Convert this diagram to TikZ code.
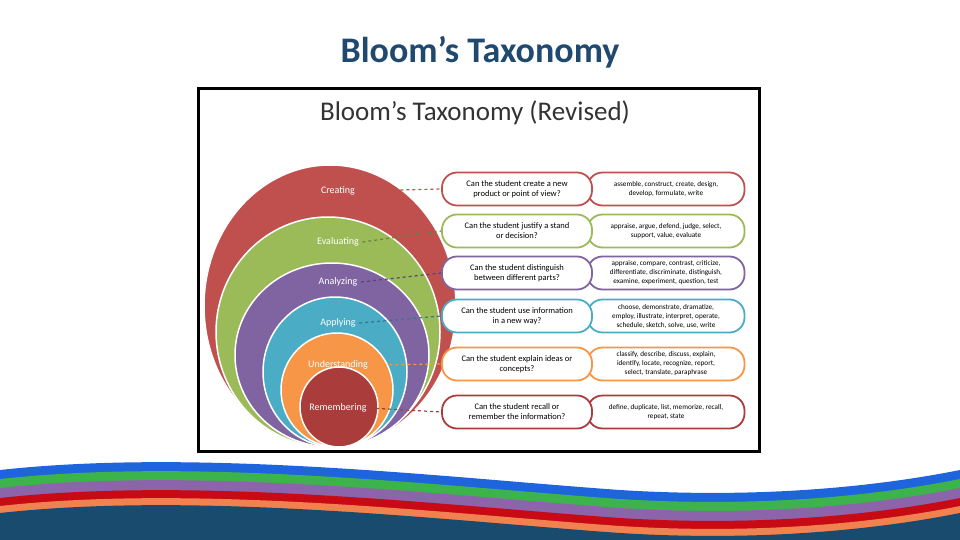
\documentclass[tikz,border=0pt]{standalone}
\usepackage{fontspec}
\setmainfont{Carlito}
\begin{document}
\begin{tikzpicture}[x=1pt,y=-1pt,
  ring/.style={draw=white,line width=1.5pt},
  lab/.style={text=white,font=\fontsize{10}{11}\selectfont},
  qbox/.style={draw=#1,fill=white,line width=1.8pt,rounded corners=15pt,minimum width=150pt,minimum height=33pt,align=center,font=\fontsize{8.5}{10}\selectfont,inner sep=1pt},
  vbox/.style={draw=#1,fill=white,line width=1.8pt,rounded corners=15pt,minimum width=157pt,minimum height=33pt,align=center,font=\fontsize{7.2}{9}\selectfont,inner sep=1pt},
  conn/.style={draw=#1,dashed,line width=1.2pt}]
\definecolor{cR}{RGB}{192,80,77}
\definecolor{cG}{RGB}{155,187,89}
\definecolor{cP}{RGB}{128,100,162}
\definecolor{cB}{RGB}{75,172,198}
\definecolor{cO}{RGB}{247,150,70}
\definecolor{cRd}{RGB}{170,60,60}
\definecolor{titleblue}{RGB}{31,73,110}
\definecolor{wBlue}{RGB}{30,100,220}
\definecolor{wGreen}{RGB}{60,180,75}
\definecolor{wPurple}{RGB}{140,100,170}
\definecolor{wRed}{RGB}{200,10,20}
\definecolor{wOrange}{RGB}{240,130,80}
\definecolor{wNavy}{RGB}{25,75,110}
\useasboundingbox (0,0) rectangle (960,540);
\node (title) at (480,52) {\fontsize{36}{40}\selectfont\bfseries\color{titleblue}Bloom’s Taxonomy};
\draw[line width=3pt] (198,89) rectangle (759,451);
\node (sub) at (475,113) {\fontsize{27}{30}\selectfont\color{black!80}Bloom’s Taxonomy (Revised)};
% rings
\fill[cR,ring] (330,306) ellipse [x radius=126, y radius=141];
\fill[cG,ring] (328,332) ellipse [x radius=112, y radius=115];
\fill[cP,ring] (332,355) ellipse [x radius=97, y radius=92];
\fill[cB,ring] (335,372) ellipse [x radius=72, y radius=75];
\fill[cO,ring] (337,390) ellipse [x radius=56, y radius=57];
\fill[cRd,ring] (339,407) ellipse [x radius=39, y radius=40];
\node[lab] (l1) at (338,191) {Creating};
\node[lab] (l2) at (338,242) {Evaluating};
\node[lab] (l3) at (338,282) {Analyzing};
\node[lab] (l4) at (338,323) {Applying};
\node[lab] (l5) at (338,365) {Understanding};
\node[lab] (l6) at (338,408) {Remembering};
% boxes
\node[vbox=cR] (v1) at (666,189) {assemble, construct, create, design,\\develop, formulate, write};
\node[vbox=cG] (v2) at (666,231) {appraise, argue, defend, judge, select,\\support, value, evaluate};
\node[vbox=cP] (v3) at (666,273) {appraise, compare, contrast, criticize,\\differentiate, discriminate, distinguish,\\examine, experiment, question, test};
\node[vbox=cB] (v4) at (666,316) {choose, demonstrate, dramatize,\\employ, illustrate, interpret, operate,\\schedule, sketch, solve, use, write};
\node[vbox=cO] (v5) at (666,364) {classify, describe, discuss, explain,\\identify, locate, recognize, report,\\select, translate, paraphrase};
\node[vbox=cRd] (v6) at (666,412) {define, duplicate, list, memorize, recall,\\repeat, state};
\node[qbox=cR] (q1) at (517,189) {Can the student create a new\\product or point of view?};
\node[qbox=cG] (q2) at (517,231) {Can the student justify a stand\\or decision?};
\node[qbox=cP] (q3) at (517,273) {Can the student distinguish\\between different parts?};
\node[qbox=cB] (q4) at (517,316) {Can the student use information\\in a new way?};
\node[qbox=cO] (q5) at (517,364) {Can the student explain ideas or\\concepts?};
\node[qbox=cRd] (q6) at (517,412) {Can the student recall or\\remember the information?};
\draw[conn=cR] (l1.east) -- (q1.west);
\draw[conn=cG!70!black] (l2.east) -- (q2.west);
\draw[conn=cP!70!black] (l3.east) -- (q3.west);
\draw[conn=cB!70!black] (l4.east) -- (q4.west);
\draw[conn=cO] (l5.east) -- (q5.west);
\draw[conn=cRd] (l6.east) -- (q6.west);
% waves
\foreach \c/\o in {wBlue/0,wGreen/9,wPurple/18,wRed/28,wOrange/36,wNavy/43}{
  \fill[\c] (0,470+\o) .. controls (200,448+\o) and (450,478+\o) .. (620,490+\o)
     .. controls (780,500+\o) and (900,482+\o) .. (960,470+\o) -- (960,540) -- (0,540) -- cycle;
}
\end{tikzpicture}
\end{document}
